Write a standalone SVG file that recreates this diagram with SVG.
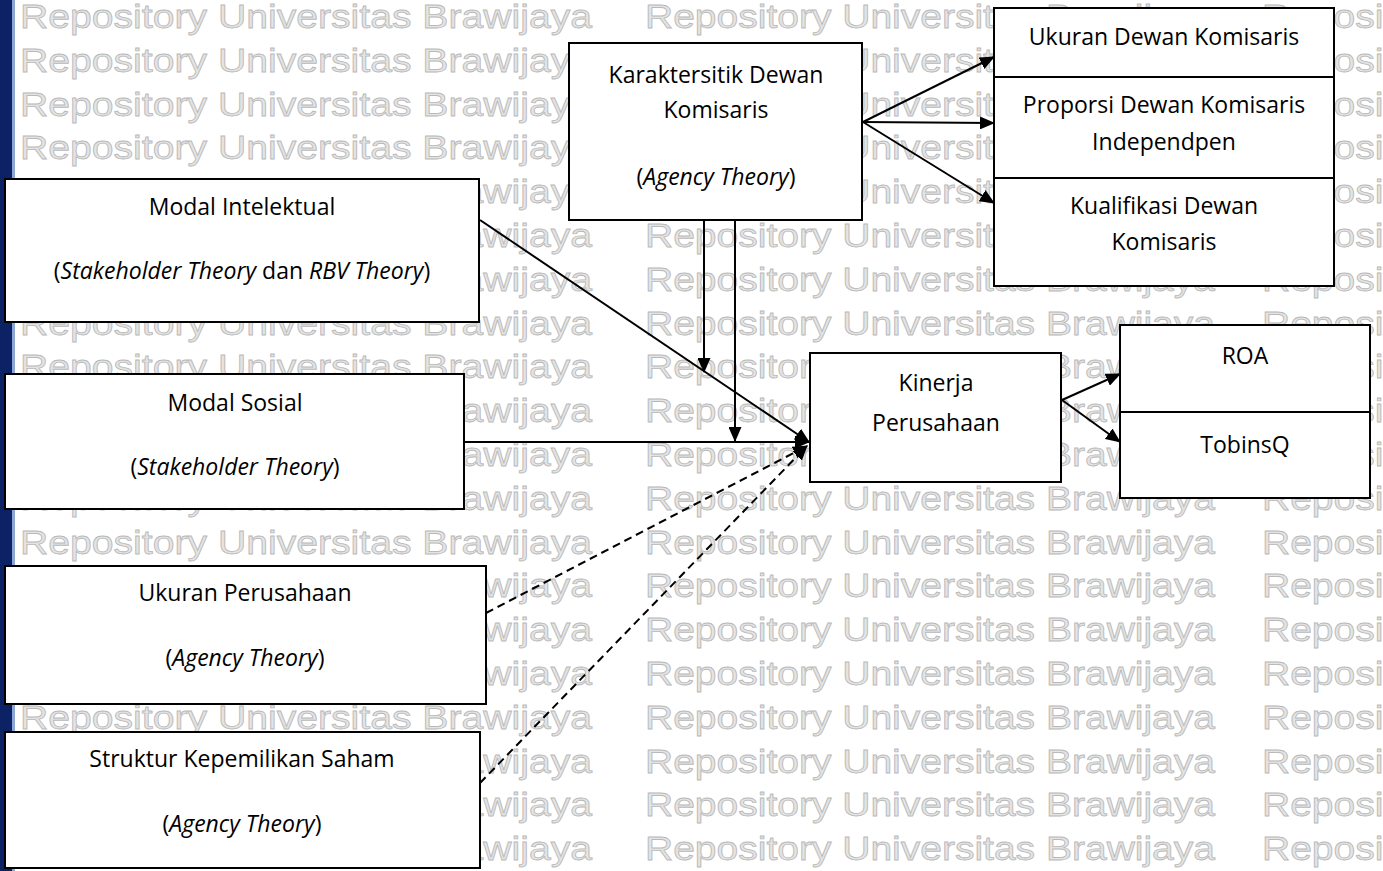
<svg xmlns="http://www.w3.org/2000/svg" width="1383" height="871" viewBox="0 0 1383 871">
<style>
.wm{font-family:"Liberation Sans",Arial,sans-serif;font-size:34px;fill:#e4e4e4;stroke:#b9b9b9;stroke-width:0.8}
.box{fill:#ffffff;stroke:#000000;stroke-width:2}
.t{font-family:"Open Sans","Noto Sans",sans-serif;font-size:23px;fill:#000000;text-anchor:middle}
.i{font-style:italic}
.ln{fill:none;stroke:#000000;stroke-width:2}
.dash{stroke-dasharray:8 5}
</style>
<defs>
<marker id="ah" viewBox="0 0 15 13" refX="14" refY="6.5" markerWidth="15" markerHeight="13" markerUnits="userSpaceOnUse" orient="auto">
<path d="M0,0 L15,6.5 L0,13 z" fill="#000000"/>
</marker>
</defs>
<rect x="0" y="0" width="1383" height="871" fill="#ffffff"/>
<rect x="0" y="0" width="12" height="871" fill="#0b2265"/>
<rect x="12" y="0" width="3" height="871" fill="#8ea6d2"/>
<g id="watermark">
<g id="wm-col1">
<text class="wm" x="20" y="28" textLength="572" lengthAdjust="spacingAndGlyphs">Repository Universitas Brawijaya</text>
<text class="wm" x="20" y="71.8" textLength="572" lengthAdjust="spacingAndGlyphs">Repository Universitas Brawijaya</text>
<text class="wm" x="20" y="115.6" textLength="572" lengthAdjust="spacingAndGlyphs">Repository Universitas Brawijaya</text>
<text class="wm" x="20" y="159.4" textLength="572" lengthAdjust="spacingAndGlyphs">Repository Universitas Brawijaya</text>
<text class="wm" x="20" y="203.2" textLength="572" lengthAdjust="spacingAndGlyphs">Repository Universitas Brawijaya</text>
<text class="wm" x="20" y="247" textLength="572" lengthAdjust="spacingAndGlyphs">Repository Universitas Brawijaya</text>
<text class="wm" x="20" y="290.8" textLength="572" lengthAdjust="spacingAndGlyphs">Repository Universitas Brawijaya</text>
<text class="wm" x="20" y="334.6" textLength="572" lengthAdjust="spacingAndGlyphs">Repository Universitas Brawijaya</text>
<text class="wm" x="20" y="378.4" textLength="572" lengthAdjust="spacingAndGlyphs">Repository Universitas Brawijaya</text>
<text class="wm" x="20" y="422.2" textLength="572" lengthAdjust="spacingAndGlyphs">Repository Universitas Brawijaya</text>
<text class="wm" x="20" y="466" textLength="572" lengthAdjust="spacingAndGlyphs">Repository Universitas Brawijaya</text>
<text class="wm" x="20" y="509.8" textLength="572" lengthAdjust="spacingAndGlyphs">Repository Universitas Brawijaya</text>
<text class="wm" x="20" y="553.6" textLength="572" lengthAdjust="spacingAndGlyphs">Repository Universitas Brawijaya</text>
<text class="wm" x="20" y="597.4" textLength="572" lengthAdjust="spacingAndGlyphs">Repository Universitas Brawijaya</text>
<text class="wm" x="20" y="641.2" textLength="572" lengthAdjust="spacingAndGlyphs">Repository Universitas Brawijaya</text>
<text class="wm" x="20" y="685" textLength="572" lengthAdjust="spacingAndGlyphs">Repository Universitas Brawijaya</text>
<text class="wm" x="20" y="728.8" textLength="572" lengthAdjust="spacingAndGlyphs">Repository Universitas Brawijaya</text>
<text class="wm" x="20" y="772.6" textLength="572" lengthAdjust="spacingAndGlyphs">Repository Universitas Brawijaya</text>
<text class="wm" x="20" y="816.4" textLength="572" lengthAdjust="spacingAndGlyphs">Repository Universitas Brawijaya</text>
<text class="wm" x="20" y="860.2" textLength="572" lengthAdjust="spacingAndGlyphs">Repository Universitas Brawijaya</text>
</g>
<g id="wm-col2">
<text class="wm" x="645" y="28" textLength="570" lengthAdjust="spacingAndGlyphs">Repository Universitas Brawijaya</text>
<text class="wm" x="645" y="71.8" textLength="570" lengthAdjust="spacingAndGlyphs">Repository Universitas Brawijaya</text>
<text class="wm" x="645" y="115.6" textLength="570" lengthAdjust="spacingAndGlyphs">Repository Universitas Brawijaya</text>
<text class="wm" x="645" y="159.4" textLength="570" lengthAdjust="spacingAndGlyphs">Repository Universitas Brawijaya</text>
<text class="wm" x="645" y="203.2" textLength="570" lengthAdjust="spacingAndGlyphs">Repository Universitas Brawijaya</text>
<text class="wm" x="645" y="247" textLength="570" lengthAdjust="spacingAndGlyphs">Repository Universitas Brawijaya</text>
<text class="wm" x="645" y="290.8" textLength="570" lengthAdjust="spacingAndGlyphs">Repository Universitas Brawijaya</text>
<text class="wm" x="645" y="334.6" textLength="570" lengthAdjust="spacingAndGlyphs">Repository Universitas Brawijaya</text>
<text class="wm" x="645" y="378.4" textLength="570" lengthAdjust="spacingAndGlyphs">Repository Universitas Brawijaya</text>
<text class="wm" x="645" y="422.2" textLength="570" lengthAdjust="spacingAndGlyphs">Repository Universitas Brawijaya</text>
<text class="wm" x="645" y="466" textLength="570" lengthAdjust="spacingAndGlyphs">Repository Universitas Brawijaya</text>
<text class="wm" x="645" y="509.8" textLength="570" lengthAdjust="spacingAndGlyphs">Repository Universitas Brawijaya</text>
<text class="wm" x="645" y="553.6" textLength="570" lengthAdjust="spacingAndGlyphs">Repository Universitas Brawijaya</text>
<text class="wm" x="645" y="597.4" textLength="570" lengthAdjust="spacingAndGlyphs">Repository Universitas Brawijaya</text>
<text class="wm" x="645" y="641.2" textLength="570" lengthAdjust="spacingAndGlyphs">Repository Universitas Brawijaya</text>
<text class="wm" x="645" y="685" textLength="570" lengthAdjust="spacingAndGlyphs">Repository Universitas Brawijaya</text>
<text class="wm" x="645" y="728.8" textLength="570" lengthAdjust="spacingAndGlyphs">Repository Universitas Brawijaya</text>
<text class="wm" x="645" y="772.6" textLength="570" lengthAdjust="spacingAndGlyphs">Repository Universitas Brawijaya</text>
<text class="wm" x="645" y="816.4" textLength="570" lengthAdjust="spacingAndGlyphs">Repository Universitas Brawijaya</text>
<text class="wm" x="645" y="860.2" textLength="570" lengthAdjust="spacingAndGlyphs">Repository Universitas Brawijaya</text>
</g>
<g id="wm-col3">
<text class="wm" x="1262" y="28" textLength="570" lengthAdjust="spacingAndGlyphs">Repository Universitas Brawijaya</text>
<text class="wm" x="1262" y="71.8" textLength="570" lengthAdjust="spacingAndGlyphs">Repository Universitas Brawijaya</text>
<text class="wm" x="1262" y="115.6" textLength="570" lengthAdjust="spacingAndGlyphs">Repository Universitas Brawijaya</text>
<text class="wm" x="1262" y="159.4" textLength="570" lengthAdjust="spacingAndGlyphs">Repository Universitas Brawijaya</text>
<text class="wm" x="1262" y="203.2" textLength="570" lengthAdjust="spacingAndGlyphs">Repository Universitas Brawijaya</text>
<text class="wm" x="1262" y="247" textLength="570" lengthAdjust="spacingAndGlyphs">Repository Universitas Brawijaya</text>
<text class="wm" x="1262" y="290.8" textLength="570" lengthAdjust="spacingAndGlyphs">Repository Universitas Brawijaya</text>
<text class="wm" x="1262" y="334.6" textLength="570" lengthAdjust="spacingAndGlyphs">Repository Universitas Brawijaya</text>
<text class="wm" x="1262" y="378.4" textLength="570" lengthAdjust="spacingAndGlyphs">Repository Universitas Brawijaya</text>
<text class="wm" x="1262" y="422.2" textLength="570" lengthAdjust="spacingAndGlyphs">Repository Universitas Brawijaya</text>
<text class="wm" x="1262" y="466" textLength="570" lengthAdjust="spacingAndGlyphs">Repository Universitas Brawijaya</text>
<text class="wm" x="1262" y="509.8" textLength="570" lengthAdjust="spacingAndGlyphs">Repository Universitas Brawijaya</text>
<text class="wm" x="1262" y="553.6" textLength="570" lengthAdjust="spacingAndGlyphs">Repository Universitas Brawijaya</text>
<text class="wm" x="1262" y="597.4" textLength="570" lengthAdjust="spacingAndGlyphs">Repository Universitas Brawijaya</text>
<text class="wm" x="1262" y="641.2" textLength="570" lengthAdjust="spacingAndGlyphs">Repository Universitas Brawijaya</text>
<text class="wm" x="1262" y="685" textLength="570" lengthAdjust="spacingAndGlyphs">Repository Universitas Brawijaya</text>
<text class="wm" x="1262" y="728.8" textLength="570" lengthAdjust="spacingAndGlyphs">Repository Universitas Brawijaya</text>
<text class="wm" x="1262" y="772.6" textLength="570" lengthAdjust="spacingAndGlyphs">Repository Universitas Brawijaya</text>
<text class="wm" x="1262" y="816.4" textLength="570" lengthAdjust="spacingAndGlyphs">Repository Universitas Brawijaya</text>
<text class="wm" x="1262" y="860.2" textLength="570" lengthAdjust="spacingAndGlyphs">Repository Universitas Brawijaya</text>
</g>
</g>
<g id="node-karakteristik">
<rect class="box" x="569" y="43" width="293" height="177"/>
<text class="t" x="716" y="83">Karaktersitik Dewan</text>
<text class="t" x="716" y="118">Komisaris</text>
<text class="t" x="716" y="185">(<tspan class="i">Agency Theory</tspan>)</text>
</g>
<g id="node-ukuran-dewan">
<rect class="box" x="994" y="8" width="340" height="69"/>
<text class="t" x="1164" y="45">Ukuran Dewan Komisaris</text>
</g>
<g id="node-proporsi">
<rect class="box" x="994" y="77" width="340" height="101"/>
<text class="t" x="1164" y="113">Proporsi Dewan Komisaris</text>
<text class="t" x="1164" y="150">Independpen</text>
</g>
<g id="node-kualifikasi">
<rect class="box" x="994" y="178" width="340" height="108"/>
<text class="t" x="1164" y="214">Kualifikasi Dewan</text>
<text class="t" x="1164" y="250">Komisaris</text>
</g>
<g id="node-modal-intelektual">
<rect class="box" x="5" y="179" width="474" height="143"/>
<text class="t" x="242" y="215">Modal Intelektual</text>
<text class="t" x="242" y="279">(<tspan class="i">Stakeholder Theory</tspan> dan <tspan class="i">RBV Theory</tspan>)</text>
</g>
<g id="node-modal-sosial">
<rect class="box" x="5" y="374" width="459" height="135"/>
<text class="t" x="235" y="411">Modal Sosial</text>
<text class="t" x="235" y="475">(<tspan class="i">Stakeholder Theory</tspan>)</text>
</g>
<g id="node-ukuran-perusahaan">
<rect class="box" x="5" y="566" width="481" height="138"/>
<text class="t" x="245" y="601">Ukuran Perusahaan</text>
<text class="t" x="245" y="666">(<tspan class="i">Agency Theory</tspan>)</text>
</g>
<g id="node-struktur">
<rect class="box" x="5" y="732" width="475" height="136"/>
<text class="t" x="242" y="767">Struktur Kepemilikan Saham</text>
<text class="t" x="242" y="832">(<tspan class="i">Agency Theory</tspan>)</text>
</g>
<g id="node-kinerja">
<rect class="box" x="810" y="353" width="251" height="129"/>
<text class="t" x="936" y="391">Kinerja</text>
<text class="t" x="936" y="431">Perusahaan</text>
</g>
<g id="node-roa">
<rect class="box" x="1120" y="325" width="250" height="87"/>
<text class="t" x="1245" y="364">ROA</text>
</g>
<g id="node-tobinsq">
<rect class="box" x="1120" y="412" width="250" height="86"/>
<text class="t" x="1245" y="453">TobinsQ</text>
</g>
<g id="connectors">
<line class="ln" x1="863" y1="122" x2="994" y2="57" marker-end="url(#ah)"/>
<line class="ln" x1="863" y1="122" x2="994" y2="123" marker-end="url(#ah)"/>
<line class="ln" x1="863" y1="122" x2="994" y2="203" marker-end="url(#ah)"/>
<line class="ln" x1="704" y1="220" x2="704" y2="372" marker-end="url(#ah)"/>
<line class="ln" x1="735" y1="220" x2="735" y2="441" marker-end="url(#ah)"/>
<line class="ln" x1="480" y1="220" x2="809" y2="442" marker-end="url(#ah)"/>
<line class="ln" x1="464" y1="442" x2="809" y2="442" marker-end="url(#ah)"/>
<line class="ln dash" x1="486" y1="613" x2="807" y2="446" marker-end="url(#ah)"/>
<line class="ln dash" x1="480" y1="783" x2="807" y2="446" marker-end="url(#ah)"/>
<line class="ln" x1="1062" y1="400" x2="1120" y2="374" marker-end="url(#ah)"/>
<line class="ln" x1="1062" y1="400" x2="1120" y2="442" marker-end="url(#ah)"/>
</g>
</svg>
